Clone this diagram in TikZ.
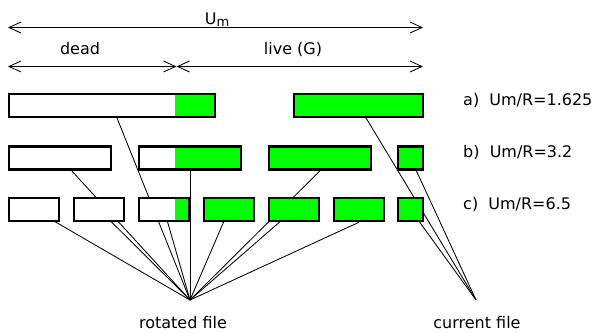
\documentclass[tikz,border=0pt]{standalone}
\usepackage{fontspec}
\setmainfont{DejaVu Sans}
\usetikzlibrary{arrows.meta,backgrounds}
\definecolor{livegreen}{RGB}{0,255,0}
\begin{document}
\begin{tikzpicture}[x=1pt,y=-1pt,
  txt/.style={font=\fontsize{16}{19}\selectfont, inner sep=0pt},
  blk/.style={draw=black, line width=2.4pt, fill=white, inner sep=0pt,
    minimum height=23.1pt, minimum width=#1},
  liveblk/.style={blk=#1, fill=livegreen},
  mixblk/.style 2 args={blk=#1, path picture={\fill[livegreen]
      ([xshift=#2]path picture bounding box.south west) rectangle
      (path picture bounding box.north east);}},
  link/.style={line width=0.85pt},
  span/.style={line width=0.85pt,
    {Straight Barb[length=12pt,width=11pt]}-{Straight Barb[length=12pt,width=11pt]}}
]
\useasboundingbox (0,0) rectangle (595,334);

% extent arrows
\coordinate (uL) at (8,27.5);
\coordinate (uR) at (423,27.5);
\coordinate (dL) at (8,66.5);
\coordinate (dM) at (176.5,66.5);
\coordinate (dR) at (423,66.5);
\draw[span] (uL) -- (uR);
\draw[span] (dL) -- (dM);
\draw[span] (dM) -- (dR);
\node[txt, anchor=base] (um) at (217,25) {U\raisebox{-2pt}{\fontsize{13}{13}\selectfont m}};
\node[txt, anchor=base] (dead) at (80,55) {dead};
\node[txt, anchor=base] (live) at (293,55) {live (G)};

% row a
\node[mixblk={205.6pt}{165.8pt}] (a1) at (112,105.5) {};
\node[liveblk=128.6pt] (a2) at (358.5,105.5) {};
% row b
\node[blk=101.6pt] (b1) at (60,158) {};
\node[mixblk={101.6pt}{35.8pt}] (b2) at (190,158) {};
\node[liveblk=101.6pt] (b3) at (320,158) {};
\node[liveblk=24.6pt] (b4) at (410.5,158) {};
% row c
\node[blk=49.6pt] (c1) at (34,209.5) {};
\node[blk=49.6pt] (c2) at (99,209.5) {};
\node[mixblk={49.6pt}{35.8pt}] (c3) at (164,209.5) {};
\node[liveblk=49.6pt] (c4) at (229,209.5) {};
\node[liveblk=49.6pt] (c5) at (294,209.5) {};
\node[liveblk=49.6pt] (c6) at (359,209.5) {};
\node[liveblk=24.6pt] (c7) at (410.5,209.5) {};

% ratio labels
\node[txt, anchor=base west] (ra) at (463,106) {a)\ \ Um/R=1.625};
\node[txt, anchor=base west] (rb) at (463,158) {b)\ \ Um/R=3.2};
\node[txt, anchor=base west] (rc) at (463,210) {c)\ \ Um/R=6.5};

% file targets
\coordinate (rot) at (190,300);
\coordinate (cur) at (476,300);
\node[txt, anchor=base] (rotlbl) at (183,328) {rotated file};
\node[txt, anchor=base] (curlbl) at (477,328) {current file};

% connectors run behind the blocks
\begin{scope}[on background layer]
  \foreach \b in {a1,b1,b2,c1,c2,c3,c4,c5}
    \draw[link] (\b.center) -- (rot);
  \draw[link] (b3.south) -- (rot);
  \draw[link] (c6.south) -- (rot);
  \foreach \b in {a2,b4,c7}
    \draw[link] (\b.center) -- (cur);
\end{scope}
\end{tikzpicture}
\end{document}
